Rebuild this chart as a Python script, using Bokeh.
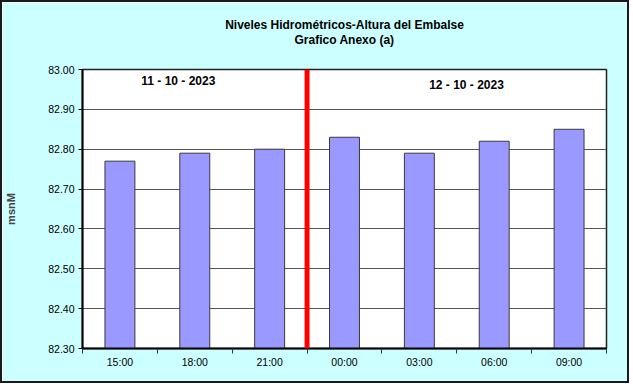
from bokeh.plotting import figure
from bokeh.models import FixedTicker, Range1d, Span, Label, NumeralTickFormatter, ColumnDataSource, Title
from bokeh.embed import file_html
from bokeh.resources import INLINE

hours = ["15:00", "18:00", "21:00", "00:00", "03:00", "06:00", "09:00"]
levels = [82.77, 82.79, 82.80, 82.83, 82.79, 82.82, 82.85]
day_labels = ["11 - 10 - 2023", "12 - 10 - 2023"]
title_lines = ["Niveles Hidrométricos-Altura del Embalse", "Grafico Anexo (a)"]
y_ticks = [82.30, 82.40, 82.50, 82.60, 82.70, 82.80, 82.90, 83.00]
y_min, y_max = 82.30, 83.00
day_change_index = 3  # boundary between 21:00 and 00:00

FONT = "Liberation Sans"
BW = 2
W, H = 633 - 2 * BW, 387 - 2 * BW
L, R, T, B = 81 - BW, 27 - BW, 69 - BW, 39 - BW

xs = [i + 0.5 for i in range(len(hours))]
src = ColumnDataSource(dict(x=xs, top=levels, bottom=[y_min] * len(levels)))

p = figure(width=W, height=H, output_backend="svg", toolbar_location=None,
           x_range=Range1d(0, len(hours)), y_range=Range1d(y_min, y_max),
           min_border_left=L, min_border_right=R, min_border_top=T, min_border_bottom=B,
           background_fill_color="white", border_fill_color="#CCFFFF",
           title=title_lines[0])
p.styles = {"border": f"{BW}px solid #1a1a1a"}

p.title.align = "center"
p.title.text_font = FONT
p.title.text_font_style = "bold"
p.title.text_font_size = "12px"
p.title.text_color = "black"
p.title.standoff = 0
# second title line; the trailing blank line keeps it clear of the plot frame
p.add_layout(Title(text=title_lines[1] + "\n ", align="center", text_font=FONT, text_font_style="bold",
                   text_font_size="12px", text_color="black", text_line_height=1.6, standoff=0), "above")

p.vbar(x="x", top="top", bottom="bottom", width=0.4, source=src,
       fill_color="#9999FF", line_color="#3a3a3a", line_width=1)

# x axis
p.xaxis.ticker = FixedTicker(ticks=xs, minor_ticks=list(range(len(hours) + 1)))
p.xaxis.major_label_overrides = {x: h for x, h in zip(xs, hours)}
p.xaxis.major_tick_out = 0
p.xaxis.major_tick_in = 0
p.xaxis.minor_tick_out = 5
p.xaxis.minor_tick_in = 0
p.xaxis.minor_tick_line_color = "#333333"
p.xaxis.axis_line_width = 2
p.xaxis.axis_line_color = "black"
p.xaxis.major_label_standoff = 2
p.xaxis.major_label_text_font = FONT
p.xaxis.major_label_text_font_size = "10.5px"
p.xaxis.major_label_text_color = "black"
p.xgrid.visible = False

# y axis
p.yaxis.ticker = FixedTicker(ticks=y_ticks)
p.yaxis.formatter = NumeralTickFormatter(format="0.00")
p.yaxis.major_tick_out = 4
p.yaxis.major_tick_in = 0
p.yaxis.minor_tick_out = 0
p.yaxis.minor_tick_in = 0
p.yaxis.axis_line_width = 2
p.yaxis.axis_line_color = "black"
p.yaxis.major_label_standoff = 4
p.yaxis.major_label_text_font = FONT
p.yaxis.major_label_text_font_size = "10.5px"
p.yaxis.major_label_text_color = "black"
p.yaxis.axis_label = "msnM"
p.yaxis.axis_label_text_font = FONT
p.yaxis.axis_label_text_font_style = "bold"
p.yaxis.axis_label_text_font_size = "11px"
p.yaxis.axis_label_standoff = 28
p.ygrid.grid_line_color = "#555555"
p.ygrid.grid_line_width = 1

p.outline_line_color = "#222222"
p.outline_line_width = 1.5

p.add_layout(Span(location=day_change_index, dimension="height", line_color="#FF0000", line_width=5))

p.add_layout(Label(x=1.28, y=82.972, text=day_labels[0], text_align="center", text_baseline="middle",
                   text_font=FONT, text_font_style="bold", text_font_size="12px", text_color="black"))
p.add_layout(Label(x=5.13, y=82.962, text=day_labels[1], text_align="center", text_baseline="middle",
                   text_font=FONT, text_font_style="bold", text_font_size="12px", text_color="black"))

open("out.html", "w").write(file_html(p, INLINE))
